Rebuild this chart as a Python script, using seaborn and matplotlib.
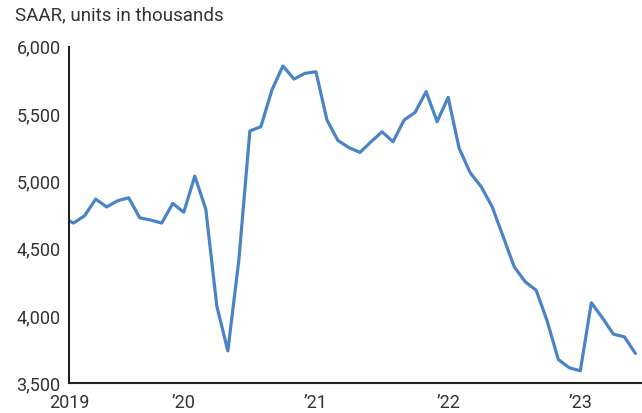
import matplotlib
matplotlib.use("Agg")
import matplotlib.pyplot as plt
import seaborn as sns
import pandas as pd
import numpy as np

# Monthly data, index 0 = Jan 2019 (Feb 2019 value partly clipped at left edge)
months = list(range(1, 54))  # Feb 2019 .. Jun 2023
values = [
    4730, 4690, 4745, 4868, 4810, 4856, 4878, 4729, 4712, 4690, 4836,   # Feb-Dec 2019
    4770, 5039, 4793, 4073, 3741, 4415, 5374, 5406, 5678, 5857, 5760, 5802,  # 2020
    5814, 5455, 5303, 5250, 5215, 5294, 5368, 5294, 5455, 5512, 5666, 5443,  # 2021
    5624, 5245, 5064, 4960, 4811, 4588, 4365, 4254, 4190, 3960, 3677, 3615,  # 2022
    3593, 4098, 3987, 3865, 3845, 3722,                                      # 2023
]
xtick_pos = [1.58, 12, 24, 36, 48]
xtick_labels = ["2019", "\u201920", "\u201921", "\u201922", "\u201923"]
ytick_vals = [3500, 4000, 4500, 5000, 5500, 6000]
title = "SAAR, units in thousands"

df = pd.DataFrame({"month": months, "value": values})

sns.set_theme(style="white")
plt.rcParams["font.family"] = ["Roboto", "DejaVu Sans"]

fig = plt.figure(figsize=(6.42, 4.13), dpi=100)
ax = fig.add_axes([69 / 642, (413 - 383.3) / 413, (642 - 69) / 642, (383.3 - 46.7) / 413])

sns.lineplot(data=df, x="month", y="value", ax=ax, color="#4a84c6", linewidth=2.3)

ax.set_xlim(1.58, 53.6)
ax.set_ylim(3500, 6000)
ax.set_xticks(xtick_pos)
ax.set_xticklabels(xtick_labels)
ax.set_yticks(ytick_vals)
ax.set_yticklabels([f"{v:,}" for v in ytick_vals])
ax.set_xlabel("")
ax.set_ylabel("")

for s in ["top", "right"]:
    ax.spines[s].set_visible(False)
for s in ["left", "bottom"]:
    ax.spines[s].set_color("#222222")
    ax.spines[s].set_linewidth(1.5)

ax.tick_params(axis="both", direction="in", length=7.7, width=1.5, color="#222222",
               labelsize=13, labelcolor="#333333")
ax.tick_params(axis="y", pad=6)
ax.tick_params(axis="x", pad=8)

fig.text(15 / 642, (413 - 20.7) / 413, title, fontsize=13.5, color="#333333",
         ha="left", va="baseline")

fig.savefig("out.png", dpi=100)
